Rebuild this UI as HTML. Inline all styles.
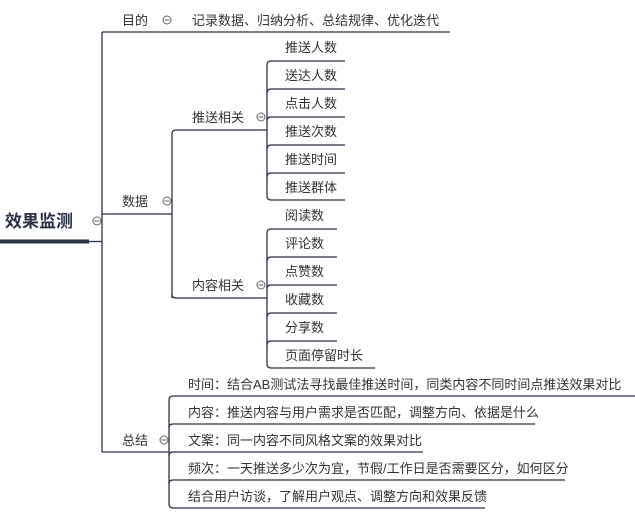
<!DOCTYPE html>
<html><head><meta charset="utf-8"><style>
html,body{margin:0;padding:0;background:#fff;width:635px;height:514px;overflow:hidden}
svg{display:block}
text{font-family:"Liberation Sans","Noto Sans CJK SC",sans-serif;font-size:13px;fill:#333}
.l{stroke:#2b3245;stroke-width:1.3;fill:none}
.c{fill:#fff;stroke:#666;stroke-width:1}
</style></head><body>
<svg width="635" height="514" viewBox="0 0 635 514">
<!-- root -->
<text x="5" y="227" style="font-size:17px;font-weight:bold;fill:#2b3245">效果监测</text>
<rect x="0" y="239.5" width="89" height="4" fill="#2b3245"/>
<line class="l" x1="89" y1="241.5" x2="102" y2="241.5"/>
<circle class="c" cx="97" cy="221" r="4"/><line x1="94.5" y1="221" x2="99.5" y2="221" stroke="#666"/>
<!-- trunk -->
<line class="l" x1="102" y1="32" x2="102" y2="452"/>
<!-- 目的 -->
<line class="l" x1="102" y1="32" x2="450" y2="32"/>
<text x="122" y="25">目的</text>
<circle class="c" cx="167" cy="20" r="4"/><line x1="164.5" y1="20" x2="169.5" y2="20" stroke="#666"/>
<text x="192" y="25">记录数据、归纳分析、总结规律、优化迭代</text>
<!-- 数据 -->
<line class="l" x1="102" y1="214" x2="172" y2="214"/>
<text x="122" y="206">数据</text>
<circle class="c" cx="167" cy="201" r="4"/><line x1="164.5" y1="201" x2="169.5" y2="201" stroke="#666"/>
<path class="l" d="M172 298 V134 Q172 130 176 130 H267"/>
<path class="l" d="M172 294 Q172 298 176 298 H267"/>
<text x="192" y="122">推送相关</text>
<circle class="c" cx="261" cy="117" r="4"/><line x1="258.5" y1="117" x2="263.5" y2="117" stroke="#666"/>
<text x="192" y="290">内容相关</text>
<circle class="c" cx="261" cy="285" r="4"/><line x1="258.5" y1="285" x2="263.5" y2="285" stroke="#666"/>
<!-- 推送相关 leaves -->
<path class="l" d="M267 196 V65 Q267 61 271 61 H345"/>
<path class="l" d="M267 93 Q267 89 271 89 H345 M267 121 Q267 117 271 117 H345 M267 149 Q267 145 271 145 H345 M267 177 Q267 173 271 173 H345 M267 196 Q267 200 271 200 H345"/>
<text x="285" y="52">推送人数</text>
<text x="285" y="80">送达人数</text>
<text x="285" y="108">点击人数</text>
<text x="285" y="136">推送次数</text>
<text x="285" y="164">推送时间</text>
<text x="285" y="192">推送群体</text>
<!-- 内容相关 leaves -->
<path class="l" d="M267 364 V233 Q267 229 271 229 H337"/>
<path class="l" d="M267 261 Q267 257 271 257 H337 M267 289 Q267 285 271 285 H337 M267 317 Q267 313 271 313 H337 M267 345 Q267 341 271 341 H337 M267 364 Q267 368 271 368 H375"/>
<text x="285" y="220">阅读数</text>
<text x="285" y="248">评论数</text>
<text x="285" y="276">点赞数</text>
<text x="285" y="304">收藏数</text>
<text x="285" y="332">分享数</text>
<text x="285" y="360">页面停留时长</text>
<!-- 总结 -->
<line class="l" x1="102" y1="452" x2="169" y2="452"/>
<text x="122" y="445">总结</text>
<circle class="c" cx="164" cy="440" r="4"/><line x1="161.5" y1="440" x2="166.5" y2="440" stroke="#666"/>
<path class="l" d="M169 504 V400 Q169 396 173 396 H635"/>
<path class="l" d="M169 428 Q169 424 173 424 H535 M169 456 Q169 452 173 452 H423 M169 484 Q169 480 173 480 H565 M169 504 Q169 508 173 508 H485"/>
<text x="188" y="389">时间：结合AB测试法寻找最佳推送时间，同类内容不同时间点推送效果对比</text>
<text x="188" y="417">内容：推送内容与用户需求是否匹配，调整方向、依据是什么</text>
<text x="188" y="445">文案：同一内容不同风格文案的效果对比</text>
<text x="188" y="473">频次：一天推送多少次为宜，节假/工作日是否需要区分，如何区分</text>
<text x="188" y="501">结合用户访谈，了解用户观点、调整方向和效果反馈</text>
</svg>
</body></html>
